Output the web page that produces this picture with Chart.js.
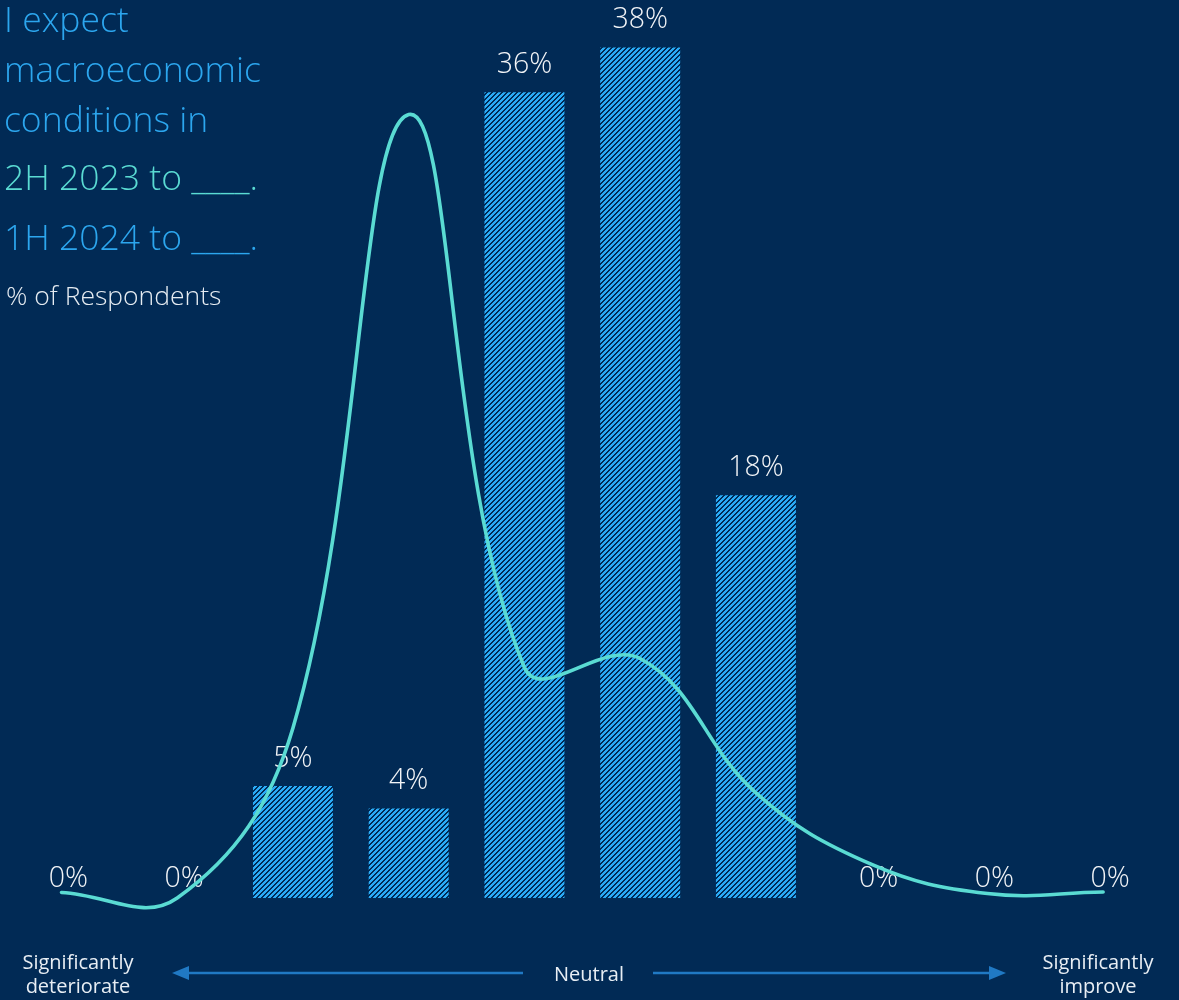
<!DOCTYPE html>
<html>
<head>
<meta charset="utf-8">
<script src="https://cdn.jsdelivr.net/npm/chart.js@4.4.0/dist/chart.umd.min.js"></script>
<style>
  html, body { margin: 0; padding: 0; background: #012a55; }
  #wrap { position: relative; width: 1179px; height: 1000px; overflow: hidden; background: #012a55; font-family: 'Open Sans', 'Noto Sans', sans-serif; }
  #c { position: absolute; left: 0; top: 0; }
  .t { position: absolute; left: 4px; font-weight: 300; font-size: 35.5px; line-height: 36px; white-space: nowrap; color: #2ca6ee; }
  .t.teal { color: #5adbd3; }
  .sub { position: absolute; left: 6px; top: 282px; font-weight: 300; font-size: 26.5px; line-height: 26px; color: #e6ecf2; white-space: nowrap; }
  .cap { position: absolute; width: 200px; text-align: center; font-size: 20px; line-height: 24px; color: #e8eef4; }
</style>
</head>
<body>
<div id="wrap">
  <canvas id="c" width="1179" height="1000"></canvas>
  <div class="t" style="top:0px">I expect</div>
  <div class="t" style="top:50px">macroeconomic</div>
  <div class="t" style="top:100px">conditions in</div>
  <div class="t teal" style="top:158px">2H 2023 to ____.</div>
  <div class="t" style="top:218px">1H 2024 to ____.</div>
  <div class="sub">% of Respondents</div>
  <div class="cap" style="left:-22px; top:950px">Significantly<br>deteriorate</div>
  <div class="cap" style="left:489px; top:962px">Neutral</div>
  <div class="cap" style="left:998px; top:950px">Significantly<br>improve</div>
</div>
<script>
// Ten-step answer scale, from "significantly deteriorate" to "significantly improve"
const categories = ['1', '2', '3', '4', '5', '6', '7', '8', '9', '10'];
// 1H 2024 expectations, % of respondents (hatched bars)
const h1_2024 = [0, 0, 5, 4, 36, 38, 18, 0, 0, 0];
// 2H 2023 expectations, % of respondents (curve)
const h2_2023 = [0.25, 0, 7.6, 35.0, 10.3, 10.7, 4.7, 1.5, 0.2, 0.27];

const BG = '#012a55';
const BAR_BLUE = '#2aabf6';
const TEAL = '#5adbd3';
const ARROW = '#2079c4';

const canvas = document.getElementById('c');
const ctx = canvas.getContext('2d');

// 5x5 diagonal hatch tile
const tile = document.createElement('canvas');
tile.width = 5; tile.height = 5;
const tg = tile.getContext('2d');
tg.fillStyle = BG; tg.fillRect(0, 0, 5, 5);
tg.fillStyle = BAR_BLUE;
for (let y = 0; y < 5; y++) for (let x = 0; x < 5; x++) if ((x + y) % 5 < 3) tg.fillRect(x, y, 1, 1);
const hatch = ctx.createPattern(tile, 'repeat');

// Value labels above each bar, drawn right after the bars so the curve sits on top
const barLabels = {
  id: 'barLabels',
  afterDatasetDraw(chart, args) {
    if (args.index !== 0) return;
    const c = chart.ctx;
    const meta = chart.getDatasetMeta(0);
    c.save();
    c.font = '300 28.5px "Open Sans", "Noto Sans", sans-serif';
    c.fillStyle = '#f2f4f7';
    c.textAlign = 'center';
    c.textBaseline = 'alphabetic';
    meta.data.forEach((bar, i) => {
      const v = h1_2024[i];
      const txt = v + '%';
      if (v === 0) c.fillText(txt, bar.x + 7, bar.base - 11);
      else c.fillText(txt, bar.x, bar.y - 19);
    });
    c.restore();
  }
};

// Scale arrows along the bottom
const scaleArrows = {
  id: 'scaleArrows',
  afterDraw(chart) {
    const c = chart.ctx;
    const y = 973;
    c.save();
    c.strokeStyle = ARROW;
    c.fillStyle = ARROW;
    c.lineWidth = 2.6;
    c.beginPath(); c.moveTo(186, y); c.lineTo(523, y); c.stroke();
    c.beginPath(); c.moveTo(653, y); c.lineTo(991, y); c.stroke();
    c.beginPath(); c.moveTo(172, y); c.lineTo(189, y - 7); c.lineTo(189, y + 7); c.closePath(); c.fill();
    c.beginPath(); c.moveTo(1006, y); c.lineTo(989, y - 7); c.lineTo(989, y + 7); c.closePath(); c.fill();
    c.restore();
  }
};

new Chart(ctx, {
  data: {
    labels: categories,
    datasets: [
      {
        type: 'bar',
        label: '1H 2024',
        data: h1_2024,
        backgroundColor: hatch,
        borderWidth: 0,
        barPercentage: 0.691,
        categoryPercentage: 1,
        order: 1
      },
      {
        type: 'line',
        label: '2H 2023',
        data: h2_2023,
        borderColor: TEAL,
        borderWidth: 3.6,
        borderCapStyle: 'round',
        pointRadius: 0,
        tension: 0.4,
        fill: false,
        clip: false,
        order: 0
      }
    ]
  },
  options: {
    responsive: false,
    animation: false,
    devicePixelRatio: 1,
    layout: { padding: { left: 3.6, right: 18, top: 0, bottom: 57.2 } },
    plugins: { legend: { display: false }, tooltip: { enabled: false }, title: { display: false } },
    elements: { line: { capBezierPoints: false } },
    scales: {
      x: { display: false, offset: true },
      y: { display: false, min: -2, max: 40.12 }
    }
  },
  plugins: [barLabels, scaleArrows]
});
</script>
</body>
</html>
